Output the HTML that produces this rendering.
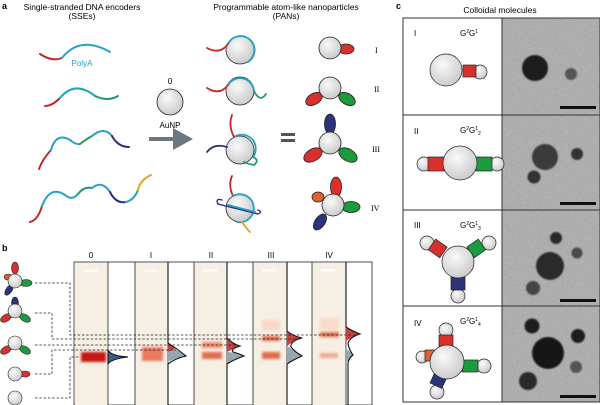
<!DOCTYPE html>
<html><head><meta charset="utf-8"><style>
html,body{margin:0;padding:0;background:#fff;}
svg{display:block;font-family:"Liberation Sans",Arial,sans-serif;}
</style></head><body>
<svg width="600" height="405" viewBox="0 0 600 405" xmlns="http://www.w3.org/2000/svg">
<defs>
<radialGradient id="sph" cx="0.4" cy="0.35" r="0.7"><stop offset="0" stop-color="#fafafa"/><stop offset="1" stop-color="#c8c8c8"/></radialGradient>
<filter id="bl" x="-50%" y="-50%" width="200%" height="200%"><feGaussianBlur stdDeviation="1.3"/></filter>
<filter id="noise" filterUnits="userSpaceOnUse" x="502" y="18" width="98" height="384"><feTurbulence type="fractalNoise" baseFrequency="0.5" numOctaves="2" seed="3"/><feColorMatrix type="matrix" values="0 0 0 0 0.55  0 0 0 0 0.55  0 0 0 0 0.55  0 0 0 0.7 0"/></filter>
<filter id="pb" x="-50%" y="-50%" width="200%" height="200%"><feGaussianBlur stdDeviation="0.8"/></filter>
</defs>
<text x="2" y="9" font-size="9" font-weight="bold">a</text>
<text x="82" y="10" font-size="8.5" text-anchor="middle">Single-stranded DNA encoders</text>
<text x="82" y="19" font-size="8.5" text-anchor="middle">(SSEs)</text>
<text x="286" y="10" font-size="8.5" text-anchor="middle">Programmable atom-like nanoparticles</text>
<text x="286" y="19" font-size="8.5" text-anchor="middle">(PANs)</text>

<g fill="none" stroke-width="2" stroke-linecap="round">
<path d="M40,54 Q52,62 62,58" stroke="#c0282c"/>
<path d="M62,58 Q80,35 110,52" stroke="#22a3c0"/>
<path d="M45,106 Q52,106 60,98" stroke="#c0282c"/>
<path d="M60,98 Q75,80 95,96" stroke="#22a3c0"/>
<path d="M95,96 Q108,102 118,96" stroke="#1f9a6e"/>
<path d="M39,169 Q42,160 51,150" stroke="#c0282c"/>
<path d="M51,150 Q56,132 70,140 Q76,145 80,144" stroke="#22a3c0"/>
<path d="M80,144 Q85,140 92,136" stroke="#2a9a5a"/>
<path d="M92,136 Q104,126 112,136" stroke="#22a3c0"/>
<path d="M112,136 Q118,147 129,147" stroke="#2b2f80"/>
<path d="M30,222 Q38,220 42,206" stroke="#c0282c"/>
<path d="M42,206 Q50,185 65,195 Q72,201 78,194" stroke="#22a3c0"/>
<path d="M78,194 Q84,186 92,188" stroke="#1f9a6e"/>
<path d="M92,188 Q102,180 110,192" stroke="#22a3c0"/>
<path d="M110,192 Q116,204 126,202" stroke="#2b2f80"/>
<path d="M126,202 Q134,200 138,190" stroke="#22a3c0"/>
<path d="M138,190 Q140,180 151,175" stroke="#e8a020"/>
</g>
<text x="82" y="66" font-size="8" fill="#22a3c0" text-anchor="middle">PolyA</text>

<text x="170" y="84" font-size="8" text-anchor="middle">0</text>
<circle cx="170" cy="102" r="13" fill="url(#sph)" stroke="#222" stroke-width="0.8"/>
<text x="170" y="128" font-size="8" text-anchor="middle">AuNP</text>
<path d="M149,139 H176" stroke="#6d7780" stroke-width="4"/>
<polygon points="173,128 193,139 173,150" fill="#6d7780"/>
<rect x="281" y="133" width="14" height="3" fill="#555"/><rect x="281" y="139" width="14" height="3" fill="#555"/>

<g stroke-width="1.8" fill="none" stroke-linecap="round">
<circle cx="240" cy="50" r="14" fill="url(#sph)" stroke="#222" stroke-width="0.8"/>
<path d="M228,44 A14,14 0 1 1 248,62" stroke="#22a3c0"/>
<path d="M207,48 Q220,55 228,44" stroke="#c0282c"/>
<circle cx="240" cy="91" r="14" fill="url(#sph)" stroke="#222" stroke-width="0.8"/>
<path d="M228,85 A14,14 0 0 1 254,91" stroke="#22a3c0"/>
<path d="M207,88 Q220,96 228,85" stroke="#c0282c"/>
<path d="M254,91 Q260,103 266,94" stroke="#1f9a6e"/>
<circle cx="240" cy="150" r="14" fill="url(#sph)" stroke="#222" stroke-width="0.8"/>
<path d="M234,137 A14,14 0 0 1 253,157" stroke="#22a3c0"/>
<path d="M232,115 Q228,125 234,137" stroke="#c0282c"/>
<path d="M253,157 Q260,160 254,165 Q248,164 244,162" stroke="#1f9a6e"/>
<path d="M227,147 Q214,143 207,152" stroke="#2b2f80"/>
<circle cx="240" cy="208" r="14" fill="url(#sph)" stroke="#222" stroke-width="0.8"/>
<path d="M232,176 Q228,185 233,196" stroke="#c0282c"/>
<path d="M233,196 A14,14 0 1 1 237,222" stroke="#22a3c0"/>
<path d="M222,200 Q215,198 218,204 L258,214 Q263,212 258,210" stroke="#2b2f80" stroke-width="1.4"/>
<path d="M228,205 L255,212" stroke="#22a3c0"/>
<path d="M242,222 Q246,228 250,232" stroke="#e8a020"/>
</g>

<g stroke="#222" stroke-width="0.8">
<ellipse cx="346" cy="49" rx="8" ry="5" fill="#d8302c"/>
<circle cx="330" cy="48" r="11" fill="url(#sph)"/>
<ellipse cx="314" cy="99" rx="9" ry="5.5" fill="#d8302c" transform="rotate(-30 314 99)"/>
<ellipse cx="347" cy="99" rx="9" ry="5.5" fill="#1c9a3e" transform="rotate(30 347 99)"/>
<circle cx="330" cy="88" r="11" fill="url(#sph)"/>
<ellipse cx="330" cy="124" rx="5.5" ry="10" fill="#2b3478"/>
<ellipse cx="313" cy="155" rx="10" ry="6" fill="#d8302c" transform="rotate(-30 313 155)"/>
<ellipse cx="348" cy="155" rx="10" ry="6" fill="#1c9a3e" transform="rotate(30 348 155)"/>
<circle cx="330" cy="143" r="11" fill="url(#sph)"/>
<ellipse cx="318" cy="197" rx="6" ry="5" fill="#e06030"/>
<ellipse cx="336" cy="187" rx="5.5" ry="10" fill="#d8302c"/>
<ellipse cx="351" cy="207" rx="9" ry="5.5" fill="#1c9a3e"/>
<ellipse cx="320" cy="222" rx="5" ry="9" fill="#2b3478" transform="rotate(35 320 222)"/>
<circle cx="333" cy="205" r="11" fill="url(#sph)"/>
</g>
<g font-size="8" font-family="Liberation Serif,serif"><text x="375" y="53">I</text><text x="374" y="92">II</text><text x="372" y="152">III</text><text x="371" y="211">IV</text></g>

<text x="2" y="251" font-size="9" font-weight="bold">b</text>
<g font-size="8" text-anchor="middle"><text x="91" y="258">0</text><text x="151" y="258">I</text><text x="211" y="258">II</text><text x="271" y="258">III</text><text x="329" y="258">IV</text></g>
<rect x="74" y="262" width="298" height="143" fill="#fff" stroke="#222" stroke-width="0.8"/>
<g fill="#f6efe4">
<rect x="75" y="263" width="33" height="142"/><rect x="135" y="263" width="33" height="142"/><rect x="194" y="263" width="33" height="142"/><rect x="253" y="263" width="34" height="142"/><rect x="312" y="263" width="34" height="142"/>
</g>
<g fill="#fff" opacity="0.9" filter="url(#pb)">
<rect x="84" y="270" width="14" height="2"/><rect x="144" y="270" width="14" height="2"/><rect x="203" y="269" width="14" height="3"/><rect x="262" y="269" width="14" height="3"/><rect x="321" y="269" width="14" height="3"/>
</g>
<g stroke="#222" stroke-width="0.8"><line x1="108" y1="262" x2="108" y2="405"/><line x1="135" y1="262" x2="135" y2="405"/><line x1="168" y1="262" x2="168" y2="405"/><line x1="194" y1="262" x2="194" y2="405"/><line x1="227" y1="262" x2="227" y2="405"/><line x1="253" y1="262" x2="253" y2="405"/><line x1="287" y1="262" x2="287" y2="405"/><line x1="312" y1="262" x2="312" y2="405"/><line x1="346" y1="262" x2="346" y2="405"/></g>
<g filter="url(#bl)">
<rect x="81" y="352" width="25" height="10" fill="#c81812"/>
<rect x="142" y="347" width="21" height="14" fill="#ea7a60"/>
<rect x="202" y="342" width="20" height="6" fill="#ec8c72"/><rect x="202" y="352" width="20" height="7" fill="#e26a50"/>
<rect x="262" y="320" width="18" height="10" fill="#f8d8c6"/><rect x="262" y="336" width="18" height="5" fill="#e26a50"/><rect x="262" y="352" width="18" height="7" fill="#e26a50"/>
<rect x="320" y="318" width="19" height="12" fill="#f8dccc"/><rect x="320" y="332" width="19" height="5" fill="#e26a50"/><rect x="320" y="353" width="18" height="5" fill="#f0a894"/>
</g>
<path d="M108,350 Q111,356 128,357 Q111,359 108,364 Z" fill="#3d5a8a" stroke="#111"/>
<path d="M168,343 Q172,346 175,349 L168,352 Z" fill="#c84040"/>
<path d="M168,352 L175,349 Q182,353 186,356 Q176,358 168,362 Z" fill="#98a6b0"/>
<path d="M168,262 V343 Q172,346 177,349 Q182,353 186,356 Q176,358 168,364 V405" fill="none" stroke="#111" stroke-width="1.1"/>
<path d="M227,338 Q233,344 240,346 Q233,349 227,352 Z" fill="#c84040"/>
<path d="M227,352 Q233,352 244,356 Q233,360 227,364 Z" fill="#98a6b0"/>
<path d="M227,262 V338 Q233,344 240,346 Q230,349 233,352 Q240,354 244,356 Q233,360 227,364 V405" fill="none" stroke="#111" stroke-width="1.1"/>
<path d="M287,331 Q293,336 302,338 Q293,341 287,346 Z" fill="#c84040"/>
<path d="M287,346 Q293,350 302,356 Q293,360 287,364 Z" fill="#98a6b0"/>
<path d="M287,262 V331 Q293,336 302,338 Q290,341 291,347 Q295,352 302,356 Q293,360 287,364 V405" fill="none" stroke="#111" stroke-width="1.1"/>
<path d="M346,327 Q352,331 360,334 Q352,337 346,341 Z" fill="#c84040"/>
<path d="M346,348 Q350,352 353,355 Q350,358 346,363 Z" fill="#98a6b0"/>
<path d="M346,262 V327 Q352,331 360,334 Q350,337 348,343 Q349,350 353,355 Q349,358 348,363 V405" fill="none" stroke="#111" stroke-width="1.1"/>
<g fill="none" stroke="#222" stroke-width="0.8" stroke-dasharray="2.5,1.8">
<path d="M35,283 H70 V335 H358"/>
<path d="M35,313 H52 V339 H300"/>
<path d="M35,345 H238"/>
<path d="M35,374 H52 V350 H176"/>
<path d="M35,398 H70 V357 H80"/>
</g>
<g stroke="#222" stroke-width="0.6">
<ellipse cx="8" cy="277" rx="4" ry="3" fill="#e06030"/>
<ellipse cx="15" cy="268" rx="3.5" ry="6" fill="#d8302c"/>
<ellipse cx="26" cy="283" rx="6" ry="3.5" fill="#1c9a3e"/>
<ellipse cx="9" cy="290" rx="3" ry="6" fill="#2b3478" transform="rotate(35 9 290)"/>
<circle cx="15" cy="281" r="7" fill="url(#sph)"/>
<ellipse cx="15" cy="303" rx="3.5" ry="6" fill="#2b3478"/>
<ellipse cx="6" cy="318" rx="6" ry="3.5" fill="#d8302c" transform="rotate(-30 6 318)"/>
<ellipse cx="25" cy="318" rx="6" ry="3.5" fill="#1c9a3e" transform="rotate(30 25 318)"/>
<circle cx="15" cy="311" r="7" fill="url(#sph)"/>
<ellipse cx="6" cy="350" rx="6" ry="3.5" fill="#d8302c" transform="rotate(-30 6 350)"/>
<ellipse cx="25" cy="350" rx="6" ry="3.5" fill="#1c9a3e" transform="rotate(30 25 350)"/>
<circle cx="15" cy="343" r="7" fill="url(#sph)"/>
<ellipse cx="25" cy="374" rx="5" ry="3" fill="#d8302c"/>
<circle cx="15" cy="374" r="7" fill="url(#sph)"/>
<circle cx="15" cy="398" r="7" fill="url(#sph)"/>
</g>

<text x="396" y="9" font-size="9" font-weight="bold">c</text>
<text x="500" y="13" font-size="8.5" text-anchor="middle">Colloidal molecules</text>
<rect x="502" y="18" width="98" height="384" fill="#a4a4a4"/>
<rect x="502" y="18" width="98" height="384" fill="#fff" filter="url(#noise)" opacity="0.9"/>
<g filter="url(#pb)">
<circle cx="535" cy="68" r="13" fill="#1c1c1c"/><circle cx="571" cy="74" r="6" fill="#555"/>
<circle cx="545" cy="157" r="13" fill="#3a3a3a"/><circle cx="577" cy="154" r="6" fill="#333"/><circle cx="534" cy="177" r="6.5" fill="#333"/>
<circle cx="550" cy="266" r="14" fill="#2a2a2a"/><circle cx="556" cy="238" r="6" fill="#2a2a2a"/><circle cx="577" cy="253" r="5.5" fill="#4a4a4a"/><circle cx="533" cy="288" r="7" fill="#444"/>
<circle cx="548" cy="353" r="16" fill="#141414"/><circle cx="532" cy="326" r="7.5" fill="#1c1c1c"/><circle cx="578" cy="336" r="7" fill="#1c1c1c"/><circle cx="576" cy="367" r="6" fill="#555"/><circle cx="528" cy="381" r="9" fill="#2a2a2a"/>
</g>
<g fill="#111"><rect x="560" y="106" width="36" height="3"/><rect x="560" y="202" width="36" height="3"/><rect x="560" y="299" width="36" height="3"/><rect x="560" y="395" width="36" height="3"/></g>
<rect x="403" y="18" width="197" height="384" fill="none" stroke="#333" stroke-width="1"/>
<g stroke="#333" stroke-width="1"><line x1="502" y1="18" x2="502" y2="402"/><line x1="403" y1="115" x2="600" y2="115"/><line x1="403" y1="210" x2="600" y2="210"/><line x1="403" y1="306" x2="600" y2="306"/></g>
<g font-size="8"><text x="414" y="36">I</text><text x="414" y="134">II</text><text x="414" y="228">III</text><text x="414" y="326">IV</text>
<text x="460" y="36">G<tspan font-size="5" dy="-3">2</tspan><tspan dy="3">G</tspan><tspan font-size="5" dy="-3">1</tspan></text>
<text x="460" y="133">G<tspan font-size="5" dy="-3">2</tspan><tspan dy="3">G</tspan><tspan font-size="5" dy="-3">1</tspan><tspan font-size="5" dy="5">2</tspan></text>
<text x="460" y="228">G<tspan font-size="5" dy="-3">2</tspan><tspan dy="3">G</tspan><tspan font-size="5" dy="-3">1</tspan><tspan font-size="5" dy="5">3</tspan></text>
<text x="460" y="324">G<tspan font-size="5" dy="-3">2</tspan><tspan dy="3">G</tspan><tspan font-size="5" dy="-3">1</tspan><tspan font-size="5" dy="5">4</tspan></text></g>
<g stroke="#222" stroke-width="0.7">
<circle cx="480" cy="72" r="7" fill="url(#sph)"/>
<rect x="463" y="65" width="13" height="12" fill="#d8302c"/>
<circle cx="446" cy="70" r="16" fill="url(#sph)"/>
<circle cx="424" cy="164" r="7" fill="url(#sph)"/><circle cx="497" cy="164" r="7" fill="url(#sph)"/>
<rect x="428" y="157" width="16" height="14" fill="#d8302c"/><rect x="476" y="157" width="16" height="14" fill="#1c9a3e"/>
<circle cx="460" cy="163" r="17" fill="url(#sph)"/>
<circle cx="427" cy="243" r="7" fill="url(#sph)"/><circle cx="489" cy="243" r="7" fill="url(#sph)"/><circle cx="458" cy="296" r="7" fill="url(#sph)"/>
<rect x="431" y="242" width="14" height="13" fill="#d8302c" transform="rotate(35 438 248)"/>
<rect x="469" y="242" width="14" height="13" fill="#1c9a3e" transform="rotate(-35 476 248)"/>
<rect x="451" y="276" width="14" height="14" fill="#2b3478"/>
<circle cx="458" cy="262" r="16" fill="url(#sph)"/>
<circle cx="446" cy="330" r="7" fill="url(#sph)"/><circle cx="484" cy="366" r="7" fill="url(#sph)"/><circle cx="422" cy="357" r="6" fill="url(#sph)"/><circle cx="437" cy="392" r="7" fill="url(#sph)"/>
<rect x="439" y="335" width="14" height="12" fill="#d8302c"/>
<rect x="425" y="350" width="10" height="11" fill="#e06030"/>
<rect x="462" y="360" width="16" height="12" fill="#1c9a3e"/>
<rect x="432" y="374" width="13" height="12" fill="#2b3478" transform="rotate(25 438 380)"/>
<circle cx="447" cy="362" r="17" fill="url(#sph)"/>
</g>
</svg>
</body></html>
